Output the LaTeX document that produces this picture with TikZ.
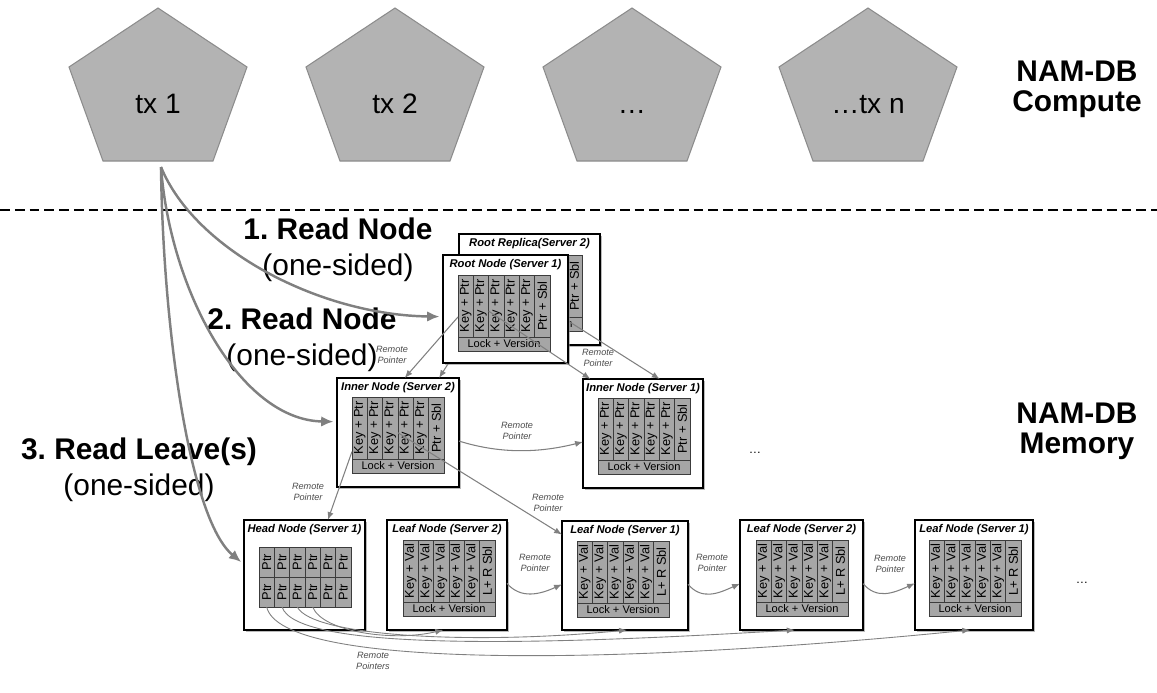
\documentclass[tikz,border=0pt]{standalone}
\usepackage{fontspec}
\setmainfont{Liberation Sans}
\usepackage{tikz}
\usetikzlibrary{arrows.meta,calc,positioning,shadows}
\frenchspacing
\definecolor{figline}{RGB}{0,0,0}
\definecolor{figgray}{RGB}{128,128,128}
\definecolor{pentfill}{RGB}{179,179,179}
\definecolor{pentline}{RGB}{140,140,140}
\definecolor{cellfill}{RGB}{166,166,166}
\definecolor{cellline}{RGB}{60,60,60}
\tikzset{
  pent/.style   ={fill=pentfill, draw=pentline, line width=0.6pt},
  pentlab/.style={font=\fontsize{16}{18}\selectfont, inner sep=1pt, text height=11.5pt, text depth=0pt},
  sidelab/.style={font=\fontsize{17}{17}\selectfont\bfseries, align=center, inner sep=1pt},
  steplab/.style={font=\fontsize{17}{20.4}\selectfont, align=center, inner sep=1pt},
  mbox/.style   ={draw=figline, fill=white, line width=0.7pt, outer sep=0pt,
                  drop shadow={shadow xshift=1.2pt, shadow yshift=-1.2pt, fill=black!45, opacity=0.6}},
  mtitle/.style ={font=\fontsize{6.4}{7}\selectfont\bfseries\itshape, inner sep=0pt},
  cellv/.style  ={draw=cellline, fill=cellfill, line width=0.4pt, minimum width=0.3067cm, minimum height=1.24cm,
                  inner sep=0pt, outer sep=0pt, font=\fontsize{7.3}{8}\selectfont},
  cellh/.style  ={cellv, minimum height=0.6cm},
  lockrow/.style={draw=cellline, fill=cellfill, line width=0.4pt, minimum width=1.84cm, minimum height=0.28cm,
                  inner sep=0pt, outer sep=0pt, font=\fontsize{6.3}{7}\selectfont},
  rplab/.style  ={font=\fontsize{5.2}{6.6}\selectfont\itshape, text=black!70, align=center, inner sep=0pt},
  rdarc/.style  ={draw=figgray, line width=1.4pt, shorten >=2pt, -{Latex[length=7pt,width=6pt]}},
  ptr/.style    ={draw=figgray, line width=0.6pt, -{Latex[length=4.5pt,width=3.5pt]}},
  hptr/.style   ={draw=figgray, line width=0.5pt, -{Latex[length=4.5pt,width=3.5pt]}},
  dots/.style   ={font=\fontsize{7}{8}\selectfont, inner sep=1pt, text height=5pt, text depth=0pt},
}
\begin{document}
\begin{tikzpicture}[x=0.02cm,y=-0.02cm]
  \useasboundingbox (0,0) rectangle (1157,693);
  % compute side
  \draw[pent] (158,8) -- (247,67) -- (213,161) -- (103,161) -- (69,67) -- cycle;
  \draw[pent,shift={(237,0)}] (158,8) -- (247,67) -- (213,161) -- (103,161) -- (69,67) -- cycle;
  \draw[pent,shift={(474,0)}] (158,8) -- (247,67) -- (213,161) -- (103,161) -- (69,67) -- cycle;
  \draw[pent,shift={(710,0)}] (158,8) -- (247,67) -- (213,161) -- (103,161) -- (69,67) -- cycle;
  \node[pentlab] (tx1) at (158,103) {tx 1};
  \node[pentlab] (tx2) at (395,103) {tx 2};
  \node[pentlab] (txd) at (632,103) {…};
  \node[pentlab] (txn) at (868,103) {…tx n};
  \coordinate (txbot) at ($(tx1)+(3,64)$);
  \node[sidelab] (comp) at (1077,89) {NAM-DB\\Compute};
  \draw[draw=black,line width=1.1pt,dash pattern=on 5.6pt off 2.8pt] (0,210) -- (1157,210);
  \node[sidelab] (mem) at (1077,431) {NAM-DB\\Memory};

  % inner nodes
  \node[mbox,minimum width=2.44cm,minimum height=2.18cm,anchor=north west] (inner2) at (337,378) {};
  \node[mtitle,below=2pt of inner2.north] (inner2t) {Inner Node (Server 2)};
  \node[cellv,anchor=north west] (ak1) at ($(inner2.north west)+(15,19)$) {\rotatebox{90}{Key + Ptr}};
  \node[cellv,right=0pt of ak1] (ak2) {\rotatebox{90}{Key + Ptr}};
  \node[cellv,right=0pt of ak2] (ak3) {\rotatebox{90}{Key + Ptr}};
  \node[cellv,right=0pt of ak3] (ak4) {\rotatebox{90}{Key + Ptr}};
  \node[cellv,right=0pt of ak4] (ak5) {\rotatebox{90}{Key + Ptr}};
  \node[cellv,right=0pt of ak5] (ak6) {\rotatebox{90}{Ptr + Sbl}};
  \node[lockrow,anchor=north west] (alk) at (ak1.south west) {Lock + Version};

  \node[mbox,minimum width=2.4cm,minimum height=2.18cm,anchor=north west] (inner1) at (583,379) {};
  \node[mtitle,below=2pt of inner1.north] (inner1t) {Inner Node (Server 1)};
  \node[cellv,anchor=north west] (bk1) at ($(inner1.north west)+(15,19)$) {\rotatebox{90}{Key + Ptr}};
  \node[cellv,right=0pt of bk1] (bk2) {\rotatebox{90}{Key + Ptr}};
  \node[cellv,right=0pt of bk2] (bk3) {\rotatebox{90}{Key + Ptr}};
  \node[cellv,right=0pt of bk3] (bk4) {\rotatebox{90}{Key + Ptr}};
  \node[cellv,right=0pt of bk4] (bk5) {\rotatebox{90}{Key + Ptr}};
  \node[cellv,right=0pt of bk5] (bk6) {\rotatebox{90}{Ptr + Sbl}};
  \node[lockrow,anchor=north west] (blk) at (bk1.south west) {Lock + Version};
  \node[dots] (dotsa) at (755,449) {…};

  % head and leaf nodes
  \node[mbox,minimum width=2.42cm,minimum height=2.2cm,anchor=north west] (head) at (244,520) {};
  \node[mtitle,below=2pt of head.north] (headt) {Head Node (Server 1)};
  \node[cellh,anchor=north west] (hp1) at ($(head.north west)+(15,27)$) {\rotatebox{90}{Ptr}};
  \node[cellh,right=0pt of hp1] (hp2) {\rotatebox{90}{Ptr}};
  \node[cellh,right=0pt of hp2] (hp3) {\rotatebox{90}{Ptr}};
  \node[cellh,right=0pt of hp3] (hp4) {\rotatebox{90}{Ptr}};
  \node[cellh,right=0pt of hp4] (hp5) {\rotatebox{90}{Ptr}};
  \node[cellh,right=0pt of hp5] (hp6) {\rotatebox{90}{Ptr}};
  \node[cellh,anchor=north west] (hb1) at (hp1.south west) {\rotatebox{90}{Ptr}};
  \node[cellh,right=0pt of hb1] (hb2) {\rotatebox{90}{Ptr}};
  \node[cellh,right=0pt of hb2] (hb3) {\rotatebox{90}{Ptr}};
  \node[cellh,right=0pt of hb3] (hb4) {\rotatebox{90}{Ptr}};
  \node[cellh,right=0pt of hb4] (hb5) {\rotatebox{90}{Ptr}};
  \node[cellh,right=0pt of hb5] (hb6) {\rotatebox{90}{Ptr}};

  \node[mbox,minimum width=2.4cm,minimum height=2.2cm,anchor=north west] (leafa) at (387,520) {};
  \node[mtitle,below=2pt of leafa.north] (leafat) {Leaf Node (Server 2)};
  \node[cellv,anchor=north west] (ck1) at ($(leafa.north west)+(16,20)$) {\rotatebox{90}{Key + Val}};
  \node[cellv,right=0pt of ck1] (ck2) {\rotatebox{90}{Key + Val}};
  \node[cellv,right=0pt of ck2] (ck3) {\rotatebox{90}{Key + Val}};
  \node[cellv,right=0pt of ck3] (ck4) {\rotatebox{90}{Key + Val}};
  \node[cellv,right=0pt of ck4] (ck5) {\rotatebox{90}{Key + Val}};
  \node[cellv,right=0pt of ck5] (ck6) {\rotatebox{90}{L+ R Sbl}};
  \node[lockrow,anchor=north west] (clk) at (ck1.south west) {Lock + Version};

  \node[mbox,minimum width=2.52cm,minimum height=2.18cm,anchor=north west] (leafb) at (562,521) {};
  \node[mtitle,below=2pt of leafb.north] (leafbt) {Leaf Node (Server 1)};
  \node[cellv,anchor=north west] (dk1) at ($(leafb.north west)+(15,20)$) {\rotatebox{90}{Key + Val}};
  \node[cellv,right=0pt of dk1] (dk2) {\rotatebox{90}{Key + Val}};
  \node[cellv,right=0pt of dk2] (dk3) {\rotatebox{90}{Key + Val}};
  \node[cellv,right=0pt of dk3] (dk4) {\rotatebox{90}{Key + Val}};
  \node[cellv,right=0pt of dk4] (dk5) {\rotatebox{90}{Key + Val}};
  \node[cellv,right=0pt of dk5] (dk6) {\rotatebox{90}{L+ R Sbl}};
  \node[lockrow,anchor=north west] (dlk) at (dk1.south west) {Lock + Version};

  \node[mbox,minimum width=2.46cm,minimum height=2.2cm,anchor=north west] (leafc) at (740,520) {};
  \node[mtitle,below=2pt of leafc.north] (leafct) {Leaf Node (Server 2)};
  \node[cellv,anchor=north west] (ek1) at ($(leafc.north west)+(16,20)$) {\rotatebox{90}{Key + Val}};
  \node[cellv,right=0pt of ek1] (ek2) {\rotatebox{90}{Key + Val}};
  \node[cellv,right=0pt of ek2] (ek3) {\rotatebox{90}{Key + Val}};
  \node[cellv,right=0pt of ek3] (ek4) {\rotatebox{90}{Key + Val}};
  \node[cellv,right=0pt of ek4] (ek5) {\rotatebox{90}{Key + Val}};
  \node[cellv,right=0pt of ek5] (ek6) {\rotatebox{90}{L+ R Sbl}};
  \node[lockrow,anchor=north west] (elk) at (ek1.south west) {Lock + Version};

  \node[mbox,minimum width=2.36cm,minimum height=2.2cm,anchor=north west] (leafd) at (915,520) {};
  \node[mtitle,below=2pt of leafd.north] (leafdt) {Leaf Node (Server 1)};
  \node[cellv,anchor=north west] (fk1) at ($(leafd.north west)+(14,20)$) {\rotatebox{90}{Key + Val}};
  \node[cellv,right=0pt of fk1] (fk2) {\rotatebox{90}{Key + Val}};
  \node[cellv,right=0pt of fk2] (fk3) {\rotatebox{90}{Key + Val}};
  \node[cellv,right=0pt of fk3] (fk4) {\rotatebox{90}{Key + Val}};
  \node[cellv,right=0pt of fk4] (fk5) {\rotatebox{90}{Key + Val}};
  \node[cellv,right=0pt of fk5] (fk6) {\rotatebox{90}{L+ R Sbl}};
  \node[lockrow,anchor=north west] (flk) at (fk1.south west) {Lock + Version};
  \node[dots] (dotsb) at (1082,579) {…};

  % root replica, half hidden
  \node[mbox,minimum width=2.82cm,minimum height=2.22cm,anchor=north west] (repl) at (459,234) {};
  \node[mtitle,below=2pt of repl.north] (replt) {Root Replica(Server 2)};
  \node[cellv,anchor=north west] (pk1) at ($(repl.north west)+(31,21)$) {\rotatebox{90}{Key + Ptr}};
  \node[cellv,right=0pt of pk1] (pk2) {\rotatebox{90}{Key + Ptr}};
  \node[cellv,right=0pt of pk2] (pk3) {\rotatebox{90}{Key + Ptr}};
  \node[cellv,right=0pt of pk3] (pk4) {\rotatebox{90}{Key + Ptr}};
  \node[cellv,right=0pt of pk4] (pk5) {\rotatebox{90}{Key + Ptr}};
  \node[cellv,right=0pt of pk5] (pk6) {\rotatebox{90}{Ptr + Sbl}};
  \node[lockrow,anchor=north west] (plk) at (pk1.south west) {Lock + Version};
  \draw[ptr] (pk1) -- (inner2.53);
  \draw[ptr] (pk2) -- (inner1.73);

  % root node
  \node[mbox,minimum width=2.5cm,minimum height=2.16cm,anchor=north west] (root) at (443,255) {};
  \node[mtitle,below=2pt of root.north] (roott) {Root Node (Server 1)};
  \node[cellv,anchor=north west] (rk1) at ($(root.north west)+(15,20)$) {\rotatebox{90}{Key + Ptr}};
  \node[cellv,right=0pt of rk1] (rk2) {\rotatebox{90}{Key + Ptr}};
  \node[cellv,right=0pt of rk2] (rk3) {\rotatebox{90}{Key + Ptr}};
  \node[cellv,right=0pt of rk3] (rk4) {\rotatebox{90}{Key + Ptr}};
  \node[cellv,right=0pt of rk4] (rk5) {\rotatebox{90}{Key + Ptr}};
  \node[cellv,right=0pt of rk5] (rk6) {\rotatebox{90}{Ptr + Sbl}};
  \node[lockrow,anchor=north west] (rlk) at (rk1.south west) {Lock + Version};

  % remote pointers
  \draw[ptr] (rk1.235) -- (inner2.83);
  \draw[ptr] (rk2) -- (inner1.134);
  \draw[ptr] (inner2.352) .. controls +(45,14) and +(-40,10) .. (inner1.188);
  \draw[ptr] (ak3) -- (leafb.147);
  \draw[ptr] (ak1.252) -- (head.67);
  \draw[ptr] (leafa.352) .. controls +(14,16) and +(-22,10) .. (leafb.188);
  \draw[ptr] (leafb.352) .. controls +(14,16) and +(-22,10) .. (leafc.188);
  \draw[ptr] (leafc.352) .. controls +(14,16) and +(-22,10) .. (leafd.188);
  \draw[hptr] (hb4.south) .. controls +(10,25) and +(-50,12) .. (leafa.266);
  \draw[hptr] (hb3.south) .. controls +(15,30) and +(-150,15) .. (leafb.272);
  \draw[hptr] (hb2.south) .. controls +(15,45) and +(-250,15) .. (leafc.263);
  \draw[hptr] (hb1.south) .. controls +(15,63) and +(-350,35) .. (leafd.266);
  \node[rplab] (rpa) at (392,355) {Remote\\Pointer};
  \node[rplab] (rpb) at (598,358) {Remote\\Pointer};
  \node[rplab] (rpc) at (517,431) {Remote\\Pointer};
  \node[rplab] (rpd) at (548,503) {Remote\\Pointer};
  \node[rplab] (rpe) at (308,492) {Remote\\Pointer};
  \node[rplab] (rpf) at (535,563) {Remote\\Pointer};
  \node[rplab] (rpg) at (712,563) {Remote\\Pointer};
  \node[rplab] (rph) at (890,564) {Remote\\Pointer};
  \node[rplab] (rpi) at (373,661) {Remote\\Pointers};

  % one-sided reads
  \node[steplab] (st1) at (338,250) {\textbf{1. Read Node}\\(one-sided)};
  \node[steplab] (st2) at (302,340) {\textbf{2. Read Node}\\(one-sided)};
  \node[steplab] (st3) at (139,470) {\textbf{3. Read Leave(s)}\\(one-sided)};
  \draw[rdarc] (txbot) .. controls (195,250) and (320,315) .. (root.187);
  \draw[rdarc] (txbot) .. controls (170,290) and (240,420) .. (inner2.170);
  \draw[rdarc] (txbot) .. controls (163,330) and (190,520) .. (head.170);
\end{tikzpicture}
\end{document}
